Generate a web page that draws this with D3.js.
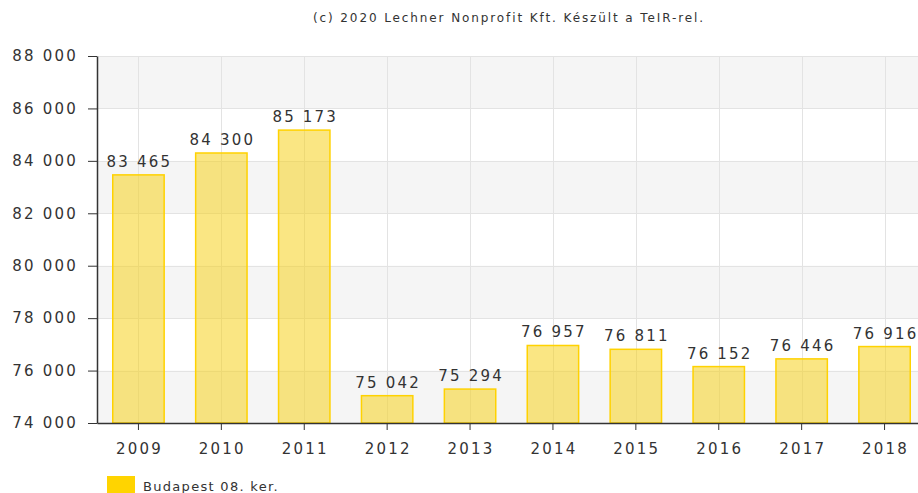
<!DOCTYPE html>
<html>
<head>
<meta charset="utf-8">
<script src="https://cdn.jsdelivr.net/npm/d3@7"></script>
<style>
  body { margin: 0; background: #fff; }
  svg { display: block; font-family: "DejaVu Sans", Verdana, sans-serif; }
</style>
</head>
<body>
<div id="container"></div>
<script>
const width = 918;
const height = 493;

const years = ["2009", "2010", "2011", "2012", "2013", "2014", "2015", "2016", "2017", "2018"];
const values = [83465, 84300, 85173, 75042, 75294, 76957, 76811, 76152, 76446, 76916];
const yTicks = [74000, 76000, 78000, 80000, 82000, 84000, 86000, 88000];
const seriesName = "Budapest 08. ker.";
const caption = "(c) 2020 Lechner Nonprofit Kft. Készült a TeIR-rel.";

const plotLeft = 97, plotTop = 56, plotBottom = 423;
const step = 82.9;

const fmt = v => d3.format(",")(v).replace(/,/g, " ");

const x = d3.scaleBand()
    .domain(years)
    .range([plotLeft, plotLeft + step * years.length])
    .paddingInner(0.38)
    .paddingOuter(0.19);

const y = d3.scaleLinear()
    .domain([74000, 88000])
    .range([plotBottom, plotTop]);

const svg = d3.select("#container").append("svg")
    .attr("width", width)
    .attr("height", height);

// caption
svg.append("text")
    .attr("x", 509)
    .attr("y", 22)
    .attr("text-anchor", "middle")
    .style("font-size", "12px")
    .style("letter-spacing", "1.9px")
    .attr("fill", "#333")
    .text(caption);

// alternating bands
const bands = svg.append("g");
for (let i = 0; i < yTicks.length - 1; i += 2) {
    bands.append("rect")
        .attr("x", plotLeft)
        .attr("y", y(yTicks[i + 1]))
        .attr("width", width - plotLeft)
        .attr("height", y(yTicks[i]) - y(yTicks[i + 1]))
        .attr("fill", "#f5f5f5");
}

// grid
const grid = svg.append("g").attr("stroke", "#e3e3e3").attr("stroke-width", 1);
grid.selectAll("line.h")
    .data(yTicks)
    .enter().append("line")
    .attr("x1", plotLeft).attr("x2", width)
    .attr("y1", d => Math.round(y(d)) + 0.5)
    .attr("y2", d => Math.round(y(d)) + 0.5);
grid.selectAll("line.v")
    .data(years)
    .enter().append("line")
    .attr("x1", d => Math.round(x(d) + x.bandwidth() / 2) + 0.5)
    .attr("x2", d => Math.round(x(d) + x.bandwidth() / 2) + 0.5)
    .attr("y1", plotTop).attr("y2", plotBottom);

// bars
svg.append("g").selectAll("rect")
    .data(values)
    .enter().append("rect")
    .attr("x", (d, i) => x(years[i]))
    .attr("y", d => y(d))
    .attr("width", x.bandwidth())
    .attr("height", d => plotBottom - y(d))
    .attr("fill", "rgba(246, 210, 30, 0.55)")
    .attr("stroke", "#ffd200")
    .attr("stroke-width", 1.5);

// value labels
svg.append("g").selectAll("text")
    .data(values)
    .enter().append("text")
    .attr("x", (d, i) => x(years[i]) + x.bandwidth() / 2 + 1)
    .attr("y", d => y(d) - 8)
    .attr("text-anchor", "middle")
    .style("font-size", "15px")
    .style("letter-spacing", "2.2px")
    .attr("fill", "#333")
    .text(d => fmt(d));

// axes
const yAxis = d3.axisLeft(y)
    .tickValues(yTicks)
    .tickFormat(fmt)
    .tickSize(9)
    .tickSizeOuter(0)
    .tickPadding(10);

const xAxis = d3.axisBottom(x)
    .tickSize(7)
    .tickSizeOuter(0)
    .tickPadding(13);

const ya = svg.append("g")
    .attr("transform", "translate(" + plotLeft + ",0)")
    .call(yAxis);
ya.select(".domain").attr("stroke", "#333").attr("stroke-width", 1.5);
ya.selectAll(".tick line").attr("stroke", "#333");
ya.selectAll(".tick text")
    .attr("fill", "#333")
    .style("font-size", "15px")
    .style("letter-spacing", "2.2px")
    .style("font-family", "DejaVu Sans, sans-serif");

const xa = svg.append("g")
    .attr("transform", "translate(0," + plotBottom + ")")
    .call(xAxis);
xa.select(".domain").attr("stroke", "#333").attr("stroke-width", 1.5);
xa.selectAll(".tick line").attr("stroke", "#333");
xa.selectAll(".tick text")
    .attr("fill", "#333")
    .attr("dx", "1")
    .style("font-size", "15px")
    .style("letter-spacing", "2.2px")
    .style("font-family", "DejaVu Sans, sans-serif");

// legend
svg.append("rect")
    .attr("x", 107).attr("y", 476)
    .attr("width", 28).attr("height", 17)
    .attr("fill", "#ffd400");
svg.append("text")
    .attr("x", 143).attr("y", 491)
    .style("font-size", "13px")
    .style("letter-spacing", "1.3px")
    .attr("fill", "#333")
    .text(seriesName);
</script>
</body>
</html>
